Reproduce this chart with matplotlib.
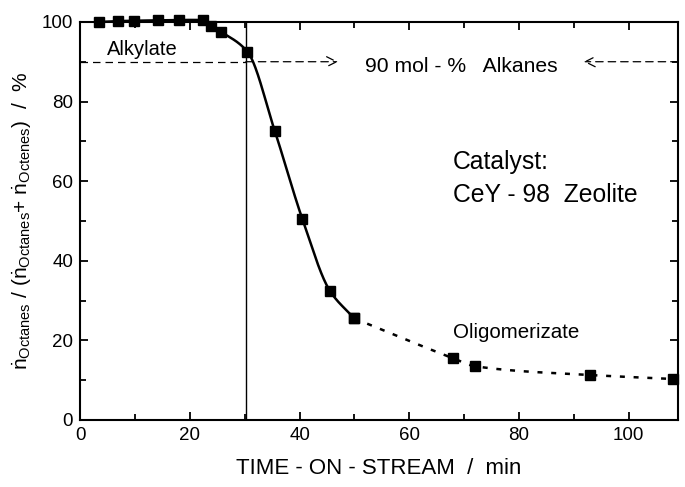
import numpy as np
import matplotlib.pyplot as plt

plt.rcParams['font.family'] = ['Liberation Sans', 'DejaVu Sans']
plt.rcParams['mathtext.fontset'] = 'custom'
plt.rcParams['mathtext.rm'] = 'Liberation Sans'
plt.rcParams['mathtext.it'] = 'Liberation Sans:italic'

# measured points: time on stream (min) vs octane share (%)
time_alkylate = [3.5, 6.9, 9.9, 14.1, 18.1, 22.4, 23.9, 25.7, 30.5, 35.5, 40.5, 45.5, 50.0]
share_alkylate = [100.0, 100.2, 100.3, 100.4, 100.5, 100.5, 99.0, 97.5, 92.5, 72.5, 50.5, 32.5, 25.5]
time_oligo = [50.0, 68.0, 72.0, 93.0, 108.0]
share_oligo = [25.5, 15.5, 13.5, 11.3, 10.3]

breakthrough_time = 30.2
alkanes_level = 90


def monotone_curve(x, y, n=400):
    """Fritsch-Carlson monotone cubic through the points, for a smooth line."""
    x = np.asarray(x, float)
    y = np.asarray(y, float)
    h = np.diff(x)
    d = np.diff(y) / h
    m = np.zeros_like(x)
    m[0], m[-1] = d[0], d[-1]
    for i in range(1, len(x) - 1):
        if d[i - 1] * d[i] <= 0:
            m[i] = 0
        else:
            w1 = 2 * h[i] + h[i - 1]
            w2 = h[i] + 2 * h[i - 1]
            m[i] = (w1 + w2) / (w1 / d[i - 1] + w2 / d[i])
    xs = np.linspace(x[0], x[-1], n)
    k = np.clip(np.searchsorted(x, xs) - 1, 0, len(x) - 2)
    t = (xs - x[k]) / h[k]
    h00 = 2 * t**3 - 3 * t**2 + 1
    h10 = t**3 - 2 * t**2 + t
    h01 = -2 * t**3 + 3 * t**2
    h11 = t**3 - t**2
    ys = h00 * y[k] + h10 * h[k] * m[k] + h01 * y[k + 1] + h11 * h[k] * m[k + 1]
    return xs, ys


fig = plt.figure(figsize=(6.85, 4.87), dpi=100)
ax = fig.add_axes([0.117, 0.1376, 0.873, 0.8174])

# smooth solid line through the alkylate regime, dotted afterwards
xs, ys = monotone_curve(time_alkylate, share_alkylate)
ax.plot(xs, ys, 'k-', lw=1.8, clip_on=False)
xo, yo = monotone_curve(time_oligo, share_oligo)
ax.plot(xo, yo, color='k', lw=1.8, linestyle=(0, (2, 3.5)))

ax.plot(time_alkylate, share_alkylate, 'ks', ms=6.5, clip_on=False, zorder=5)
ax.plot(time_oligo, share_oligo, 'ks', ms=6.5, clip_on=False, zorder=5)

# breakthrough marker and 90 % alkanes level
ax.plot([breakthrough_time, breakthrough_time], [0, 100], 'k-', lw=1.0)
ax.plot([0, breakthrough_time], [alkanes_level, alkanes_level], 'k', lw=0.9, dashes=(6, 4))
ax.annotate('', xy=(47, alkanes_level), xytext=(breakthrough_time, alkanes_level),
            arrowprops=dict(arrowstyle='->', lw=0.9, linestyle=(0, (6, 4)),
                            mutation_scale=18, shrinkA=0, shrinkB=0))
ax.annotate('', xy=(91.8, alkanes_level), xytext=(109, alkanes_level),
            arrowprops=dict(arrowstyle='->', lw=0.9, linestyle=(0, (6, 4)),
                            mutation_scale=18, shrinkA=0, shrinkB=0))

ax.text(52.0, 87.4, '90 mol - %   Alkanes', fontsize=15.2, va='baseline')
ax.text(4.9, 91.6, 'Alkylate', fontsize=14.5, va='baseline')
ax.text(67.9, 63.0, 'Catalyst:', fontsize=17.8, va='baseline')
ax.text(67.9, 54.8, 'CeY - 98  Zeolite', fontsize=17.8, va='baseline')
ax.text(67.9, 20.6, 'Oligomerizate', fontsize=14.8, va='baseline')

ax.set_xlim(0, 109)
ax.set_ylim(0, 100)
ax.set_xticks(np.arange(0, 101, 20))
ax.set_xticks(np.arange(10, 101, 20), minor=True)
ax.set_yticks(np.arange(0, 101, 20))
ax.set_yticks(np.arange(10, 100, 20), minor=True)
ax.tick_params(which='both', direction='in', top=True, right=True, labelsize=13.5, width=1.3)
ax.tick_params(which='major', length=6, pad=5)
ax.tick_params(which='minor', length=4)
for s in ax.spines.values():
    s.set_linewidth(1.5)

ax.set_xlabel('TIME - ON - STREAM  /  min', fontsize=16, labelpad=10)
ax.set_ylabel(r'$\dot{\mathrm{n}}_{\mathrm{Octanes}}$ / ($\dot{\mathrm{n}}_{\mathrm{Octanes}}$+ '
              r'$\dot{\mathrm{n}}_{\mathrm{Octenes}}$)  /  %', fontsize=15, labelpad=6)

fig.savefig('out.png', dpi=100)
